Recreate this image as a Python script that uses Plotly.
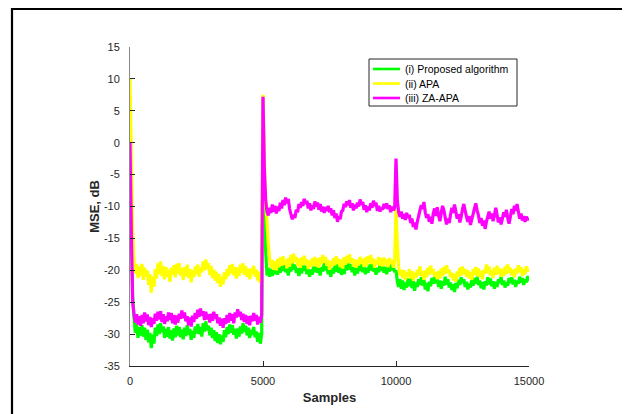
import numpy as np
import plotly.graph_objects as go

STEP = 50  # samples between stored points

# ---- (i) Proposed algorithm (green) ----
green_seg1 = [
    0.0, -12.0, -24.0, -27.5, -29.8, -28.4, -30.6, -28.9, -30.2, -28.6,
    -30.4, -29.0, -30.9, -29.3, -31.3, -29.8, -32.2, -30.1, -31.5, -29.0,
    -30.3, -28.5, -30.0, -28.3, -29.7, -28.8, -30.6, -29.2, -30.4, -28.9,
    -30.7, -29.4, -31.0, -29.1, -30.5, -28.7, -30.2, -28.9, -30.5, -29.3,
    -30.8, -29.0, -30.3, -28.6, -30.1, -29.2, -30.9, -29.5, -30.6, -28.8,
    -29.9, -28.4, -30.0, -28.9, -30.4, -28.3, -29.6, -28.0, -29.4, -28.7,
    -30.2, -29.0, -30.6, -29.4, -31.1, -29.7, -31.4, -30.0, -31.6, -30.2,
    -31.2, -29.4, -30.5, -28.9, -30.0, -28.5, -29.8, -28.6, -30.1, -29.2,
    -30.7, -29.1, -30.4, -28.8, -29.9, -28.3, -29.6, -28.7, -30.2, -29.0,
    -30.6, -29.3, -30.1, -28.9, -30.5, -29.6, -31.2, -29.8, -31.5, -30.0]
green_seg2 = [
    7.0, -6.0, -17.0, -20.8, -19.6, -21.0, -19.8, -20.9, -19.5, -20.6,
    -19.3, -20.7, -19.6, -20.4, -19.2, -20.1, -18.9, -20.3, -19.5, -20.8,
    -19.4, -20.2, -18.8, -19.9, -19.1, -20.4, -19.7, -20.9, -19.6, -20.5,
    -19.0, -20.1, -19.3, -20.6, -19.8, -21.0, -19.9, -20.7, -19.4, -20.3,
    -19.2, -20.4, -19.6, -20.8, -19.5, -20.2, -18.9, -20.0, -19.3, -20.6,
    -19.9, -21.0, -19.7, -20.5, -19.1, -20.2, -19.0, -20.4, -19.4, -20.7,
    -19.8, -20.6, -19.2, -20.0, -18.8, -19.9, -19.0, -20.3, -19.5, -20.8,
    -19.7, -20.5, -19.3, -20.1, -19.0, -20.3, -19.4, -20.6, -19.6, -20.4,
    -19.1, -20.0, -18.9, -20.2, -19.5, -20.7, -19.6, -20.3, -19.0, -20.1,
    -19.2, -20.4, -19.5, -20.6, -19.3, -20.2, -18.9, -20.0, -19.4, -20.3]
green_seg3 = [
    -20.0, -21.8, -22.6, -21.4, -22.9, -21.6, -23.1, -21.9, -22.7, -21.3,
    -22.5, -21.2, -22.8, -21.7, -23.2, -21.9, -22.6, -21.4, -22.3, -21.1,
    -22.4, -21.5, -23.0, -22.0, -23.3, -21.8, -22.5, -21.2, -22.1, -20.9,
    -22.0, -21.3, -22.6, -21.6, -22.9, -21.7, -22.4, -21.0, -22.2, -21.4,
    -22.7, -21.9, -23.1, -22.2, -23.4, -22.0, -22.8, -21.5, -22.3, -21.1,
    -22.0, -21.4, -22.6, -21.8, -23.0, -22.1, -22.7, -21.5, -22.4, -21.2,
    -22.1, -21.0, -22.3, -21.6, -22.8, -21.9, -23.0, -21.7, -22.4, -21.1,
    -22.2, -21.3, -22.5, -21.7, -22.9, -21.8, -22.6, -21.4, -22.0, -21.0,
    -22.3, -21.6, -22.7, -21.9, -22.4, -21.2, -22.0, -21.1, -22.2, -21.5,
    -22.6, -21.6, -22.1, -21.0, -21.9, -21.2, -22.3, -21.4, -21.9, -20.9,
    -21.7]

# ---- (ii) APA (yellow) ----
yellow_seg1 = [
    10.0, -2.0, -14.0, -18.5, -20.5, -19.0, -21.2, -19.4, -20.8, -19.0,
    -21.5, -19.6, -21.0, -20.0, -22.3, -20.6, -23.5, -21.0, -22.6, -19.8,
    -21.3, -18.9, -20.6, -18.6, -20.9, -19.3, -21.4, -19.5, -21.0, -19.9,
    -21.8, -19.6, -20.7, -19.2, -21.1, -19.0, -20.5, -18.9, -20.8, -19.7,
    -21.5, -19.5, -20.9, -19.1, -21.2, -19.8, -21.9, -20.0, -21.1, -19.4,
    -20.6, -19.1, -21.0, -19.6, -20.3, -18.6, -20.0, -18.3, -19.8, -18.9,
    -20.7, -19.3, -21.2, -19.9, -21.6, -20.2, -22.0, -20.6, -22.6, -21.0,
    -22.2, -20.3, -21.4, -19.8, -20.9, -19.2, -20.5, -19.0, -20.8, -19.5,
    -21.3, -19.6, -20.9, -19.1, -20.4, -18.9, -20.7, -19.4, -21.0, -19.8,
    -21.4, -19.7, -20.6, -19.3, -21.0, -19.9, -21.6, -20.2, -22.0, -20.5]
yellow_seg2 = [
    7.5, -3.0, -9.0, -12.5, -16.0, -18.3, -19.6, -18.4, -19.9, -18.6,
    -20.0, -18.2, -19.5, -18.0, -19.3, -17.8, -19.1, -18.4, -19.7, -18.1,
    -19.4, -17.6, -18.9, -17.4, -18.7, -17.9, -19.3, -18.2, -19.6, -18.0,
    -19.2, -17.7, -19.0, -18.3, -19.8, -18.5, -19.5, -18.1, -19.2, -17.9,
    -19.4, -18.2, -19.6, -18.0, -19.0, -17.6, -18.8, -17.9, -19.3, -18.4,
    -19.9, -18.6, -19.4, -18.1, -19.2, -17.8, -19.0, -18.2, -19.5, -18.3,
    -19.7, -18.0, -19.1, -17.7, -18.9, -17.5, -18.8, -18.1, -19.4, -18.3,
    -19.6, -18.4, -19.2, -17.9, -19.0, -18.2, -19.5, -18.0, -19.3, -17.8,
    -18.9, -17.6, -19.0, -18.2, -19.6, -18.4, -19.1, -17.9, -19.3, -18.1,
    -19.4, -18.0, -19.2, -18.3, -19.5, -18.1, -19.0, -18.4, -19.6, -18.6]
yellow_seg3 = [
    -10.5, -16.0, -19.5, -20.8, -19.9, -21.2, -20.0, -21.5, -20.3, -21.0,
    -19.8, -21.3, -20.1, -21.6, -20.4, -21.2, -19.9, -20.8, -19.4, -20.9,
    -20.2, -21.5, -20.0, -21.1, -19.6, -20.7, -19.3, -20.5, -19.8, -21.0,
    -20.3, -21.4, -20.1, -21.3, -19.7, -20.9, -19.5, -20.6, -19.2, -20.4,
    -19.9, -21.1, -20.4, -21.6, -20.6, -21.8, -20.2, -21.0, -19.6, -20.8,
    -19.4, -20.6, -19.8, -21.0, -20.0, -21.3, -20.3, -21.5, -19.8, -20.7,
    -19.5, -20.9, -19.7, -21.0, -20.1, -21.4, -19.9, -20.5, -19.1, -20.4,
    -19.4, -20.8, -20.0, -21.2, -19.6, -20.7, -19.3, -20.5, -19.7, -21.0,
    -19.8, -20.9, -19.4, -20.6, -19.1, -20.4, -19.6, -20.8, -19.9, -21.1,
    -19.7, -20.5, -19.2, -20.3, -19.5, -20.9, -19.8, -20.6, -19.4, -20.2,
    -19.6]

# ---- (iii) ZA-APA (magenta) ----
magenta_seg1 = [
    0.0, -14.0, -25.0, -26.8, -28.2, -26.9, -28.5, -27.2, -28.7, -27.0,
    -28.3, -26.6, -28.0, -26.9, -28.6, -27.3, -28.9, -27.5, -28.4, -26.8,
    -27.9, -26.5, -27.7, -26.4, -28.1, -26.9, -28.4, -27.2, -28.0, -26.6,
    -27.8, -26.7, -28.3, -27.0, -28.5, -27.1, -28.2, -26.8, -27.6, -26.3,
    -27.5, -26.6, -28.0, -27.2, -28.6, -27.4, -28.8, -27.1, -28.1, -26.7,
    -27.6, -26.2, -27.3, -26.0, -27.1, -26.4, -27.8, -26.5, -27.7, -26.9,
    -28.2, -26.8, -27.9, -26.5, -27.6, -26.9, -28.3, -27.4, -28.7, -27.6,
    -29.0, -27.5, -28.4, -27.0, -28.2, -26.7, -27.9, -26.9, -28.3, -26.6,
    -27.4, -26.1, -27.2, -26.5, -27.8, -26.8, -28.1, -27.0, -28.4, -27.2,
    -28.6, -27.1, -28.0, -26.7, -27.9, -27.0, -28.5, -27.3, -28.2, -27.0]
magenta_seg2 = [
    7.2, -4.0, -9.0, -10.8, -11.4, -10.2, -11.0, -9.7, -10.8, -9.9,
    -11.1, -10.0, -10.7, -9.4, -10.3, -9.0, -9.8, -8.6, -9.5, -8.8,
    -10.4, -11.2, -12.0, -11.3, -11.8, -10.5, -10.9, -9.6, -10.2, -9.3,
    -9.9, -8.8, -9.6, -9.1, -10.3, -9.5, -10.6, -9.8, -10.4, -9.2,
    -10.0, -9.4, -10.5, -9.6, -10.8, -10.0, -11.0, -10.1, -10.7, -9.9,
    -10.9, -10.3, -11.4, -10.6, -11.8, -11.1, -12.4, -11.5, -12.0, -10.8,
    -10.6, -9.6, -10.1, -9.2, -9.8, -9.0, -10.2, -9.5, -10.6, -9.7,
    -10.3, -9.4, -10.0, -8.9, -9.7, -9.3, -10.5, -9.8, -10.9, -10.0,
    -10.6, -9.5, -10.2, -9.1, -9.9, -9.4, -10.7, -9.9, -10.8, -10.1,
    -10.5, -9.6, -10.3, -9.5, -10.4, -9.8, -10.9, -10.0, -10.6, -10.2]
magenta_seg3 = [
    -2.5, -9.0, -10.9, -11.6, -10.8, -11.9, -11.2, -12.1, -11.0, -11.8,
    -11.3, -12.6, -11.9, -13.2, -12.5, -13.6, -12.4, -11.5, -10.6, -9.8,
    -10.4, -9.3, -10.9, -11.8, -11.2, -12.4, -11.6, -12.7, -11.1, -10.3,
    -11.5, -10.1, -11.4, -12.3, -11.0, -9.9, -10.6, -11.7, -12.8, -11.9,
    -12.6, -11.3, -10.2, -11.0, -9.7, -10.8, -11.9, -11.2, -12.5, -11.6,
    -10.4, -9.6, -10.7, -11.6, -12.4, -11.5, -12.9, -12.0, -11.2, -10.3,
    -9.5, -10.6, -11.4, -12.6, -11.8, -13.0, -12.2, -13.5, -12.4, -11.6,
    -10.8, -11.9, -11.1, -12.3, -11.4, -10.2, -11.3, -12.5, -11.7, -12.8,
    -11.9, -10.9, -11.6, -10.5, -11.8, -12.7, -11.6, -10.4, -11.2, -9.9,
    -10.7, -9.6, -10.8, -11.9, -11.1, -12.2, -11.5, -12.4, -11.6, -12.1,
    -11.8]

segment_starts = [0, 5000, 10000]
x_ticks = [0, 5000, 10000, 15000]
x_tick_labels = ["0", "5000", "10000", "15000"]
y_ticks = [-35, -30, -25, -20, -15, -10, -5, 0, 5, 10, 15]
y_tick_labels = ["-35", "-30", "-25", "-20", "-15", "-10", "-5", "0", "5", "10", "15"]

names = ["(i) Proposed algorithm", "(ii) APA", "(iii) ZA-APA"]
colors = ["#00FF00", "#FFFF00", "#FF00FF"]
series = [
    [green_seg1, green_seg2, green_seg3],
    [yellow_seg1, yellow_seg2, yellow_seg3],
    [magenta_seg1, magenta_seg2, magenta_seg3],
]


def build(segs):
    xs, ys = [], []
    for start, seg in zip(segment_starts, segs):
        xs.extend(start + STEP * np.arange(len(seg)))
        ys.extend(seg)
    return xs, ys


FONT = "Liberation Sans"
W, H = 622, 406          # page body has an 8px margin
L, R, T, B = 122, 101, 39, 48
PW, PH = W - L - R, H - T - B


def px(X):
    return (X - L) / PW


def py(Y):
    return (H - B - Y) / PH


fig = go.Figure()
for name, col, segs in zip(names, colors, series):
    xs, ys = build(segs)
    fig.add_trace(go.Scatter(x=xs, y=ys, mode="lines", name=name, showlegend=False,
                             line=dict(color=col, width=3.2, simplify=False)))

shapes = [dict(type="rect", xref="paper", yref="paper",
               x0=px(4), x1=px(619), y0=py(460), y1=py(1),
               line=dict(color="black", width=2.2), fillcolor="rgba(0,0,0,0)",
               layer="below")]
annotations = []
# manual legend box
shapes.append(dict(type="rect", xref="paper", yref="paper",
                   x0=px(361), x1=px(509), y0=py(98), y1=py(51),
                   line=dict(color="#262626", width=1), fillcolor="white", layer="above"))
for i, (name, col) in enumerate(zip(names, colors)):
    yy = 61 + i * 14.5
    shapes.append(dict(type="line", xref="paper", yref="paper",
                       x0=px(365), x1=px(392), y0=py(yy), y1=py(yy),
                       line=dict(color=col, width=2.6), layer="above"))
    annotations.append(dict(xref="paper", yref="paper", x=px(395), y=py(yy),
                            xanchor="left", yanchor="middle", showarrow=False,
                            text=name, font=dict(family=FONT, size=10.5, color="black")))

fig.update_layout(
    width=W, height=H,
    margin=dict(l=L, r=R, t=T, b=B, autoexpand=False),
    paper_bgcolor="white", plot_bgcolor="white",
    font=dict(family=FONT, size=11, color="#262626"),
    showlegend=False,
    xaxis=dict(range=[0, 15000], tickvals=x_ticks, ticktext=x_tick_labels,
               ticks="inside", ticklen=5, ticklabelstandoff=5,
               tickcolor="#262626", showline=True, linecolor="#262626", linewidth=1,
               showgrid=False, zeroline=False, mirror=False,
               tickfont=dict(family=FONT, size=11, color="#262626"),
               title=dict(text="<b>Samples</b>", font=dict(family=FONT, size=13, color="#262626"), standoff=6)),
    yaxis=dict(range=[-35, 15], tickvals=y_ticks, ticktext=y_tick_labels,
               ticks="inside", ticklen=5, ticklabelstandoff=7,
               tickcolor="#262626", showline=True, linecolor="#8a8a8a", linewidth=1,
               showgrid=False, zeroline=False, mirror=False,
               tickfont=dict(family=FONT, size=11, color="#262626"),
               title=dict(text="<b>MSE, dB</b>", font=dict(family=FONT, size=13, color="#262626"), standoff=1)),
    shapes=shapes,
    annotations=annotations,
)

fig.write_html("out.html")
